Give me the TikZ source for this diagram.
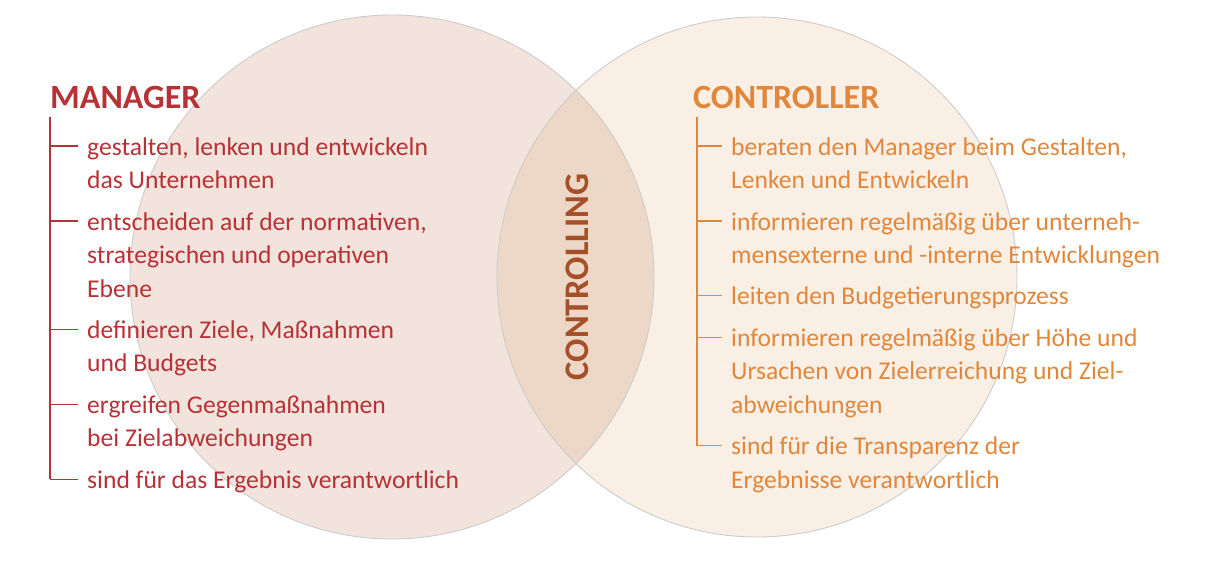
\documentclass[tikz,border=0pt]{standalone}
\usepackage{fontspec}
\setmainfont{Carlito}
\usetikzlibrary{positioning,calc}

\definecolor{mgrred}{RGB}{183,50,55}
\definecolor{ctrorange}{RGB}{224,135,60}
\definecolor{ctgbrown}{RGB}{166,80,40}
\definecolor{mgrfill}{RGB}{242,227,220}
\definecolor{ctrfill}{RGB}{250,239,228}
\definecolor{lensfill}{RGB}{237,215,199}

\tikzset{
  rim/.style={draw=black!20, line width=0.9pt},
  headline/.style={anchor=base west, inner sep=0pt, font=\fontsize{34}{40}\selectfont\bfseries},
  item/.style={anchor=north west, inner sep=0pt, align=left, font=\fontsize{25.6}{33.5}\selectfont},
  mgritem/.style={item, text=mgrred},
  ctritem/.style={item, text=ctrorange},
  mgrline/.style={draw=mgrred, line width=1.2pt},
  ctrline/.style={draw=ctrorange, line width=1.2pt}
}

\begin{document}
\begin{tikzpicture}[x=1pt,y=-1pt]
    \useasboundingbox (0,0) rectangle (1216,568);

    % Draw the two circles and their overlap
    \coordinate (mgrc) at (392,277);
    \coordinate (ctrc) at (757,277);
    \fill[mgrfill] (mgrc) circle (262pt);
    \fill[ctrfill] (ctrc) circle (260pt);
    \begin{scope}
      \clip (mgrc) circle (262pt);
      \fill[lensfill] (ctrc) circle (260pt);
    \end{scope}
    \draw[rim] (mgrc) circle (262pt);
    \draw[rim] (ctrc) circle (260pt);

    \node[rotate=90, inner sep=0pt, text=ctgbrown, font=\fontsize{34.5}{40}\selectfont\bfseries] (ctg) at (577,277) {CONTROLLING};

    % Manager side
    \node[headline, text=mgrred] (mgr) at (50,108) {MANAGER};
    \node[mgritem] (m1) at (87,131.5) {\strut gestalten, lenken und entwickeln\\das Unternehmen\strut};
    \node[mgritem, below right=7.5pt and 0pt of m1.south west] (m2) {\strut entscheiden auf der normativen,\\strategischen und operativen\\Ebene\strut};
    \node[mgritem, below right=7.5pt and 0pt of m2.south west] (m3) {\strut definieren Ziele, Maßnahmen\\und Budgets\strut};
    \node[mgritem, below right=7.5pt and 0pt of m3.south west] (m4) {\strut ergreifen Gegenmaßnahmen\\bei Zielabweichungen\strut};
    \node[mgritem, below right=7.5pt and 0pt of m4.south west] (m5) {\strut sind für das Ergebnis verantwortlich\strut};

    \coordinate (mtop) at (50,117);
    \foreach \i in {1,...,5} {
      \draw[mgrline] ($(m\i.north west)+(-9pt,-14.5pt)$) coordinate (mt\i) -- (mt\i -| mtop);
    }
    \draw[mgrline] (mtop) -- (mt5 -| mtop);

    % Controller side
    \node[headline, text=ctrorange] (ctr) at (693,108) {CONTROLLER};
    \node[ctritem] (c1) at (731,131.5) {\strut beraten den Manager beim Gestalten,\\Lenken und Entwickeln\strut};
    \node[ctritem, below right=7.5pt and 0pt of c1.south west] (c2) {\strut informieren regelmäßig über unterneh-\\mensexterne und -interne Entwicklungen\strut};
    \node[ctritem, below right=7.5pt and 0pt of c2.south west] (c3) {\strut leiten den Budgetierungsprozess\strut};
    \node[ctritem, below right=7.5pt and 0pt of c3.south west] (c4) {\strut informieren regelmäßig über Höhe und\\Ursachen von Zielerreichung und Ziel-\\abweichungen\strut};
    \node[ctritem, below right=7.5pt and 0pt of c4.south west] (c5) {\strut sind für die Transparenz der\\Ergebnisse verantwortlich\strut};

    \coordinate (ctop) at (697,117);
    \foreach \i in {1,...,5} {
      \draw[ctrline] ($(c\i.north west)+(-9pt,-14.5pt)$) coordinate (ct\i) -- (ct\i -| ctop);
    }
    \draw[ctrline] (ctop) -- (ct5 -| ctop);
\end{tikzpicture}
\end{document}
